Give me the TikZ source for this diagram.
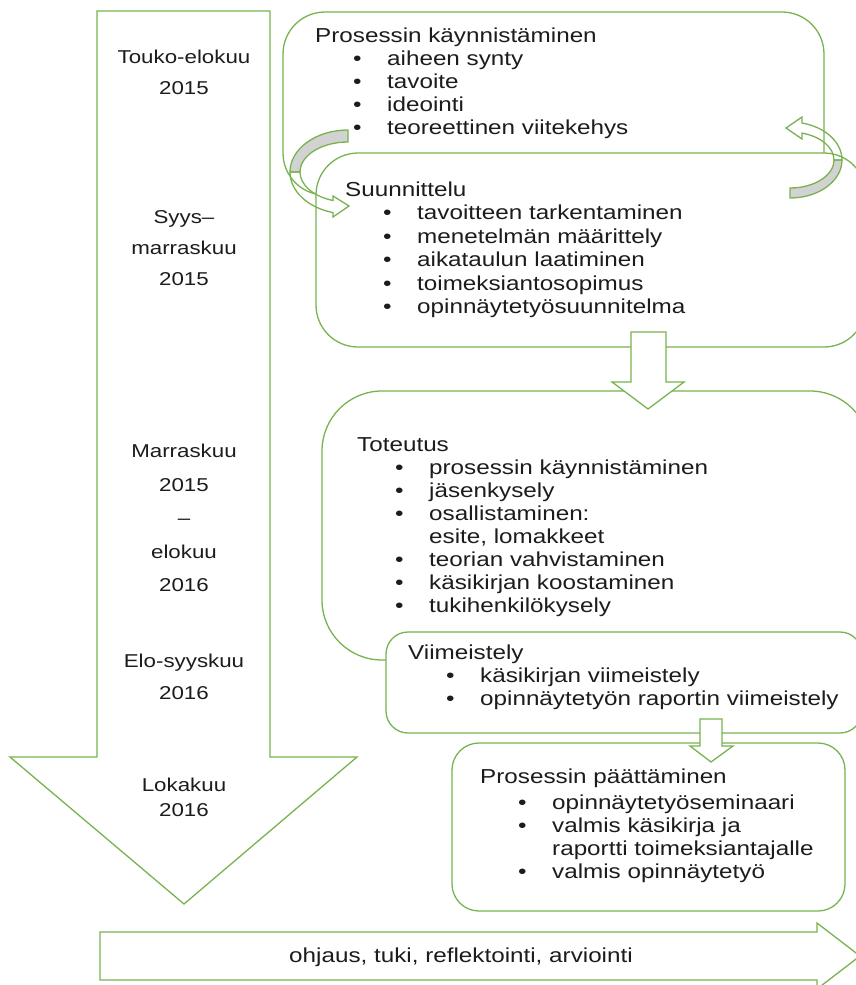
\documentclass[tikz,border=0pt]{standalone}
\usepackage{fontspec}
\setmainfont{Liberation Sans}[FakeStretch=1.2]
\definecolor{grn}{HTML}{78B350}
\definecolor{shadegray}{HTML}{D2D2D2}
\definecolor{ink}{HTML}{1C1C1C}
\newcommand\bitem[1]{\hspace*{38pt}\makebox[34pt][l]{\textbullet}#1}
\newcommand\bcont[1]{\hspace*{72pt}#1}
\tikzset{
  gline/.style={draw=grn, line width=1.3pt, line join=miter},
  boxtxt/.style={anchor=north west, inner sep=0pt, align=left, text=ink, font=\fontsize{20.2}{23}\selectfont},
  datetxt/.style={anchor=north, inner sep=0pt, align=center, text=ink},
}
\begin{document}
\begin{tikzpicture}[x=1pt,y=-1pt]
\clip (0,0) rectangle (856,985);
\fill[white] (0,0) rectangle (856,985);

% big time arrow
\draw[gline, fill=white] (97,11) -- (270,11) -- (270,757) -- (357,757) -- (184,904) -- (10,757) -- (97,757) -- cycle;

% box 1 and box 2
\draw[gline, fill=white, rounded corners=42pt] (283,12) rectangle (824,195);
\draw[gline, fill=white, rounded corners=42pt] (316,153) rectangle (866,347);

% left curved arrow
\filldraw[gline, fill=shadegray] (348,130) arc[start angle=270, end angle=180, x radius=58, y radius=42] -- (300,172) arc[start angle=180, end angle=270, x radius=48, y radius=30] -- cycle;
\draw[gline] (290,172) arc[start angle=180, end angle=105, x radius=58, y radius=42] -- (333,217) -- (349,206) -- (333,196) -- (333,200.5) arc[start angle=108.2, end angle=180, x radius=48, y radius=30] -- cycle;

% right curved arrow
\filldraw[gline, fill=shadegray] (790,198) arc[start angle=90, end angle=0, x radius=52, y radius=38] -- (834,160) arc[start angle=0, end angle=90, x radius=44, y radius=28] -- cycle;
\draw[gline] (842,160) arc[start angle=0, end angle=-76.66, x radius=52, y radius=38] -- (802,117) -- (786,128) -- (802,139) -- (802,133.1) arc[start angle=-74.17, end angle=0, x radius=44, y radius=28] -- cycle;

% box 3
\draw[gline, fill=white, rounded corners=60pt] (322,391) rectangle (870,660);
% down arrow 1
\draw[gline, fill=white] (631,332) -- (666,332) -- (666,382) -- (684,382) -- (648,409) -- (612,382) -- (631,382) -- cycle;
% box 4
\draw[gline, fill=white, rounded corners=22pt] (386,632) rectangle (862,733);
% box 5
\draw[gline, fill=white, rounded corners=27pt] (452,743) rectangle (845,911);
% down arrow 2
\draw[gline, fill=white] (700,719) -- (722,719) -- (722,746) -- (733,746) -- (711,762) -- (690,746) -- (700,746) -- cycle;

% bottom arrow
\draw[gline, fill=white] (100,932) -- (817,932) -- (817,923) -- (860,956) -- (817,989) -- (817,980) -- (100,980) -- cycle;

% texts in boxes
\node[boxtxt] (t1) at (315,25.9) {\strut Prosessin käynnistäminen\\
\bitem{aiheen synty}\\ \bitem{tavoite}\\ \bitem{ideointi}\\ \bitem{teoreettinen viitekehys}};

\node[boxtxt, font=\fontsize{20.2}{23.5}\selectfont] (t2) at (345,179.5) {\strut Suunnittelu\\
\bitem{tavoitteen tarkentaminen}\\ \bitem{menetelmän määrittely}\\ \bitem{aikataulun laatiminen}\\ \bitem{toimeksiantosopimus}\\ \bitem{opinnäytetyösuunnitelma}};

\node[boxtxt] (t3) at (357,434.9) {\strut Toteutus\\
\bitem{prosessin käynnistäminen}\\ \bitem{jäsenkysely}\\ \bitem{osallistaminen:}\\ \bcont{esite, lomakkeet}\\ \bitem{teorian vahvistaminen}\\ \bitem{käsikirjan koostaminen}\\ \bitem{tukihenkilökysely}};

\node[boxtxt] (t4) at (408,642.9) {\strut Viimeistely\\
\bitem{käsikirjan viimeistely}\\ \bitem{opinnäytetyön raportin viimeistely}};

\node[boxtxt] (t5) at (480,766.9) {\strut Prosessin päättäminen\\[3pt]
\bitem{opinnäytetyöseminaari}\\ \bitem{valmis käsikirja ja}\\ \bcont{raportti toimeksiantajalle}\\ \bitem{valmis opinnäytetyö}};

% dates
\node[datetxt, font=\fontsize{18.6}{31}\selectfont] (d1) at (184,41.8) {\strut Touko-elokuu\\2015};
\node[datetxt, font=\fontsize{18.6}{31}\selectfont] (d2) at (184,201.8) {\strut Syys–\\marraskuu\\2015};
\node[datetxt, font=\fontsize{18.6}{33.5}\selectfont] (d3) at (184,434) {\strut Marraskuu\\2015\\–\\elokuu\\2016};
\node[datetxt, font=\fontsize{18.6}{32}\selectfont] (d4) at (184,644.6) {\strut Elo-syyskuu\\2016};
\node[datetxt, font=\fontsize{18.6}{25.5}\selectfont] (d5) at (184,773) {\strut Lokakuu\\2016};

% bottom text
\node[anchor=base, inner sep=0pt, text=ink, font=\fontsize{20.2}{23}\selectfont] (bt) at (461,962) {ohjaus, tuki, reflektointi, arviointi};
\end{tikzpicture}
\end{document}
